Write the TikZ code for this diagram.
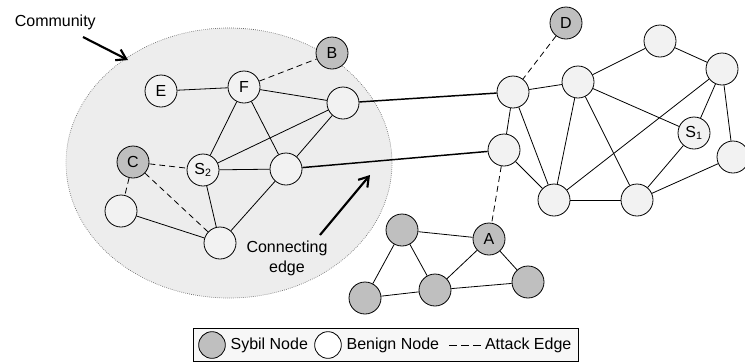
\documentclass[tikz,border=0pt]{standalone}
\usepackage{fontspec}
\setmainfont{Liberation Sans}
\usetikzlibrary{arrows.meta}
\definecolor{benign}{HTML}{F2F2F2}
\definecolor{sybil}{HTML}{BFBFBF}
\definecolor{region}{HTML}{EDEDED}
\tikzset{
	bnode/.style={circle,draw,fill=benign,minimum size=24pt,inner sep=0pt,line width=.6pt},
	snode/.style={bnode,fill=sybil},
	attack/.style={dashed,dash pattern=on 4.5pt off 3pt},
	bridge/.style={line width=1.1pt},
	pointer/.style={line width=1.6pt,-{Straight Barb[length=7pt,width=9pt]}},
}
\begin{document}
\begin{tikzpicture}[x=.75pt,y=-.75pt,font=\fontsize{12}{14}\selectfont,line width=.6pt]
			\useasboundingbox (0,0) rectangle (745,362);
			\fill[region] (229,163) ellipse (163 and 135);
			\draw[densely dotted,gray!80!black,line width=.5pt] (229,163) ellipse (163 and 135);
			% community
			\node[snode] at (332,53) (b) {B};
			\node[bnode] at (161,91) (e) {E};
			\node[bnode] at (244,87) (f) {F};
			\node[bnode] at (343,103) (l1) {};
			\node[snode] at (133,162) (c) {C};
			\node[bnode] at (203,170) (s2) {S\textsubscript{2}};
			\node[bnode] at (286,169) (l2) {};
			\node[bnode] at (121,211) (l3) {};
			\node[bnode] at (220,243) (l4) {};
			%
			\draw (e) -- (f);
			\draw[attack] (f) -- (b);
			\draw (f) -- (l1);
			\draw (f) -- (s2);
			\draw (f) -- (l2);
			\draw (s2) -- (l1);
			\draw (s2) -- (l2);
			\draw (l1) -- (l2);
			\draw[attack] (c) -- (s2);
			\draw[attack] (c) -- (l3);
			\draw[attack] (c) -- (l4);
			\draw (l3) -- (l4);
			\draw (s2) -- (l4);
			\draw (l2) -- (l4);
			% honest region
			\node[snode] at (566,23) (d) {D};
			\node[bnode] at (513,92) (r1) {};
			\node[bnode] at (578,82) (r2) {};
			\node[bnode] at (660,41) (r3) {};
			\node[bnode] at (722,69) (r4) {};
			\node[bnode] at (694,133) (s1) {S\textsubscript{1}};
			\node[bnode] at (733,157) (r5) {};
			\node[bnode] at (504,150) (r6) {};
			\node[bnode] at (554,200) (r7) {};
			\node[bnode] at (637,200) (r8) {};
			%
			\draw[attack] (d) -- (r1);
			\draw (r1) -- (r2);
			\draw (r1) -- (r6);
			\draw (r1) -- (r7);
			\draw (r2) -- (r3);
			\draw (r2) -- (s1);
			\draw (r2) -- (r7);
			\draw (r2) -- (r8);
			\draw (r3) -- (r4);
			\draw (r4) -- (s1);
			\draw (r4) -- (r7);
			\draw (r4) -- (r5);
			\draw (r6) -- (r7);
			\draw (r7) -- (r8);
			\draw (r8) -- (s1);
			\draw (r8) -- (r5);
			\draw[bridge] (l1) -- (r1);
			\draw[bridge] (l2) -- (r6);
			% sybil region
			\node[snode] at (489,239) (a) {A};
			\node[snode] at (402,230) (y1) {};
			\node[snode] at (365,298) (y2) {};
			\node[snode] at (435,290) (y3) {};
			\node[snode] at (528,282) (y4) {};
			%
			\draw[attack] (r6) -- (a);
			\draw (y1) -- (a);
			\draw (y1) -- (y2);
			\draw (y1) -- (y3);
			\draw (y2) -- (y3);
			\draw (y3) -- (a);
			\draw (a) -- (y4);
			\draw (y3) -- (y4);
			% labels
			\node[anchor=west] at (10,22) (comm) {Community};
			\coordinate (commtip) at (128,60);
			\draw[pointer] (83,37) -- (commtip);
			\node[align=center,font=\fontsize{12}{15}\selectfont] at (287,258) (conn) {Connecting\\edge};
			\coordinate (conntip) at (370,175);
			\draw[pointer] (320,235) -- (conntip);
			% legend
			\draw[fill=gray!6,line width=.6pt] (193,328) rectangle (578,361);
			\node[snode,minimum size=20pt] at (212,345) (ks) {};
			\node[anchor=west] at (ks.east) (kst) {Sybil Node};
			\node[bnode,fill=white,minimum size=20pt] at (328,345) (kb) {};
			\node[anchor=west] at (kb.east) (kbt) {Benign Node};
			\coordinate (ka) at (449,345);
			\coordinate (kb2) at (482,345);
			\draw[dash pattern=on 6pt off 3pt] (ka) -- (kb2);
			\node[anchor=west,inner sep=2pt] at (kb2) (kat) {Attack Edge};
		\end{tikzpicture}
\end{document}
